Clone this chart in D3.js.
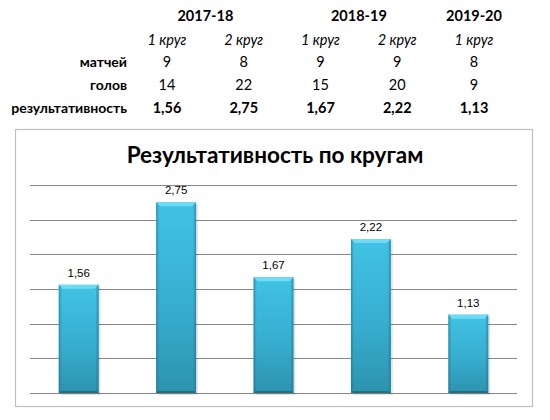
<!DOCTYPE html>
<html>
<head>
<meta charset="utf-8">
<script src="https://cdn.jsdelivr.net/npm/d3@7"></script>
<style>
  body { margin: 0; background: #fff; }
  svg { display: block; }
</style>
</head>
<body>
<div id="chart"></div>
<script>
// table data
const seasons = ["2017-18", "2018-19", "2019-20"];
const seasonSpan = [[0, 1], [2, 3], [4, 4]];
const rounds = ["1 круг", "2 круг", "1 круг", "2 круг", "1 круг"];
const matches = [9, 8, 9, 9, 8];
const goals = [14, 22, 15, 20, 9];
const efficiency = [1.56, 2.75, 1.67, 2.22, 1.13];
const rowLabels = ["матчей", "голов", "результативность"];
const yTicks = [0, 0.5, 1, 1.5, 2, 2.5, 3];

const fmt = v => d3.format(".2f")(v).replace(".", ",");

const width = 550, height = 420;
const font = "Lato, 'Open Sans', sans-serif";

const svg = d3.select("#chart").append("svg")
    .attr("width", width)
    .attr("height", height)
    .style("font-family", font);

// ---- table ----
const col = d3.scaleLinear().domain([0, 4]).range([167, 474]);
const rowY = [16, 40, 62, 85, 108];

const table = svg.append("g").attr("font-size", 14.5).attr("fill", "#000");

table.selectAll("text.season")
  .data(seasons)
  .join("text")
    .attr("class", "season")
    .attr("x", (d, i) => (col(seasonSpan[i][0]) + col(seasonSpan[i][1])) / 2)
    .attr("y", rowY[0])
    .attr("dy", "0.35em")
    .attr("text-anchor", "middle")
    .attr("font-weight", "bold")
    .text(d => d);

table.selectAll("text.round")
  .data(rounds)
  .join("text")
    .attr("class", "round")
    .attr("x", (d, i) => col(i))
    .attr("y", rowY[1])
    .attr("dy", "0.35em")
    .attr("text-anchor", "middle")
    .attr("font-style", "italic")
    .text(d => d);

table.selectAll("text.rowlabel")
  .data(rowLabels)
  .join("text")
    .attr("class", "rowlabel")
    .attr("x", 127)
    .attr("y", (d, i) => rowY[i + 2])
    .attr("dy", "0.35em")
    .attr("text-anchor", "end")
    .attr("font-size", 14)
    .attr("font-weight", "bold")
    .text(d => d);

[matches, goals, efficiency].forEach((row, r) => {
  table.selectAll("text.r" + r)
    .data(row)
    .join("text")
      .attr("class", "r" + r)
      .attr("x", (d, i) => col(i))
      .attr("y", rowY[r + 2])
      .attr("dy", "0.35em")
      .attr("text-anchor", "middle")
      .attr("font-weight", r === 2 ? "bold" : "normal")
      .text(d => r === 2 ? fmt(d) : d);
});

// ---- chart ----
svg.append("rect")
    .attr("x", 15.5).attr("y", 129.5)
    .attr("width", 517).attr("height", 277)
    .attr("fill", "#fff")
    .attr("stroke", "#bfbfbf")
    .attr("stroke-width", 1.2);

svg.append("text")
    .attr("x", 275)
    .attr("y", 163)
    .attr("text-anchor", "middle")
    .attr("font-size", 22.5)
    .attr("font-weight", "bold")
    .text("Результативность по кругам");

const x = d3.scaleBand()
    .domain(d3.range(efficiency.length))
    .range([30, 517])
    .paddingInner(0.59)
    .paddingOuter(0.295);

const y = d3.scaleLinear().domain([0, 3]).range([393, 185]);

const defs = svg.append("defs");
const grad = defs.append("linearGradient")
    .attr("id", "barFill").attr("x1", 0).attr("y1", 0).attr("x2", 0).attr("y2", 1);
grad.append("stop").attr("offset", "0%").attr("stop-color", "#41c2e4");
grad.append("stop").attr("offset", "55%").attr("stop-color", "#37aed0");
grad.append("stop").attr("offset", "100%").attr("stop-color", "#2d93ae");

const side = defs.append("linearGradient")
    .attr("id", "barSide").attr("x1", 0).attr("y1", 0).attr("x2", 1).attr("y2", 0);
side.append("stop").attr("offset", "0%").attr("stop-color", "#1d6e84").attr("stop-opacity", 0.55);
side.append("stop").attr("offset", "8%").attr("stop-color", "#1d6e84").attr("stop-opacity", 0);
side.append("stop").attr("offset", "92%").attr("stop-color", "#1d6e84").attr("stop-opacity", 0);
side.append("stop").attr("offset", "100%").attr("stop-color", "#1d6e84").attr("stop-opacity", 0.6);

svg.append("g")
  .selectAll("line")
  .data(yTicks)
  .join("line")
    .attr("x1", 30).attr("x2", 517)
    .attr("y1", d => Math.round(y(d)) + 0.5)
    .attr("y2", d => Math.round(y(d)) + 0.5)
    .attr("stroke", "#868686");

const bars = svg.append("g")
  .selectAll("g")
  .data(efficiency)
  .join("g");

// soft shadow
bars.append("rect")
    .attr("x", (d, i) => x(i) + 2)
    .attr("y", d => y(d) + 2)
    .attr("width", x.bandwidth())
    .attr("height", d => y(0) - y(d))
    .attr("fill", "#000")
    .attr("opacity", 0.1);

bars.append("rect")
    .attr("x", (d, i) => x(i))
    .attr("y", d => y(d))
    .attr("width", x.bandwidth())
    .attr("height", d => y(0) - y(d))
    .attr("fill", "url(#barFill)");

bars.append("rect")
    .attr("x", (d, i) => x(i))
    .attr("y", d => y(d))
    .attr("width", x.bandwidth())
    .attr("height", d => y(0) - y(d))
    .attr("fill", "url(#barSide)");

// top bevel
bars.append("path")
    .attr("d", (d, i) => {
      const x0 = x(i), x1 = x(i) + x.bandwidth(), t = y(d);
      return `M${x0},${t}L${x1},${t}L${x1 - 4},${t + 4}L${x0 + 4},${t + 4}Z`;
    })
    .attr("fill", "#6bdcf3");

// bottom bevel
bars.append("path")
    .attr("d", (d, i) => {
      const x0 = x(i), x1 = x(i) + x.bandwidth(), b = y(0);
      return `M${x0},${b}L${x1},${b}L${x1 - 2},${b - 2}L${x0 + 2},${b - 2}Z`;
    })
    .attr("fill", "#1f6f85");

bars.append("text")
    .attr("x", (d, i) => x(i) + x.bandwidth() / 2)
    .attr("y", d => y(d) - 8)
    .attr("text-anchor", "middle")
    .attr("font-size", 11.5)
    .attr("font-family", "'Liberation Sans', sans-serif")
    .attr("fill", "#000")
    .text(d => fmt(d));
</script>
</body>
</html>
